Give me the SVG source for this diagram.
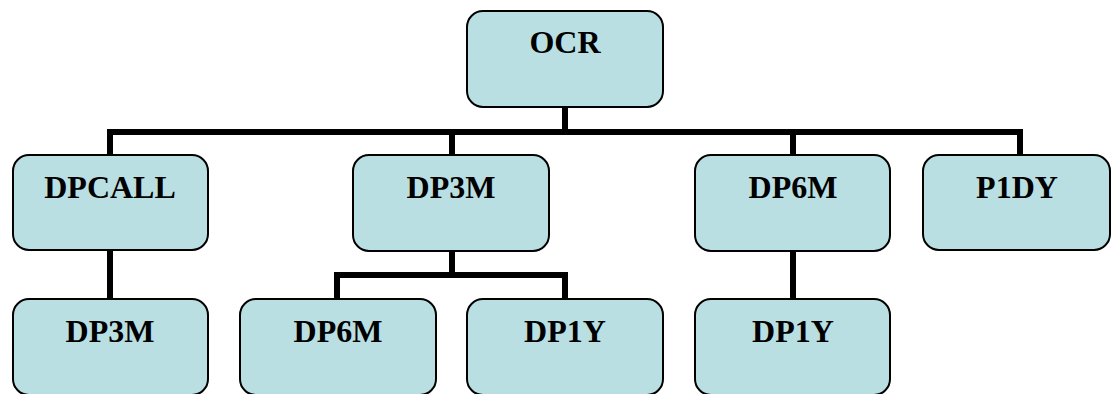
<svg xmlns="http://www.w3.org/2000/svg" width="1112" height="394" viewBox="0 0 1112 394">
<style>
.box{fill:#B9DFE3;stroke:#000;stroke-width:2}
.lbl{font-family:"Liberation Serif","Times New Roman",serif;font-weight:bold;font-size:32px;fill:#000;text-anchor:middle}
.conn{fill:none;stroke:#000;stroke-width:6;stroke-linecap:butt;stroke-linejoin:miter}
</style>
<rect width="1112" height="394" fill="#fff"/>
<g id="connectors">
<path class="conn" d="M565 107V132M110 155V132H1020V155M452 132V155M793 132V155"/>
<path class="conn" d="M110 250V299"/>
<path class="conn" d="M452 251V275M337 299V275H565V299"/>
<path class="conn" d="M793 251V299"/>
</g>
<g id="OCR"><rect class="box" x="467" y="11" width="196" height="96" rx="16"/><text class="lbl" x="565" y="53">OCR</text></g>
<g id="DPCALL"><rect class="box" x="13" y="155" width="195" height="95" rx="16"/><text class="lbl" x="110" y="198">DPCALL</text></g>
<g id="DP3M_a"><rect class="box" x="353" y="155" width="196" height="96" rx="16"/><text class="lbl" x="451" y="198">DP3M</text></g>
<g id="DP6M_a"><rect class="box" x="695" y="155" width="195" height="96" rx="16"/><text class="lbl" x="793" y="198">DP6M</text></g>
<g id="P1DY"><rect class="box" x="923" y="155" width="187" height="95" rx="16"/><text class="lbl" x="1017" y="198">P1DY</text></g>
<g id="DP3M_b"><rect class="box" x="13" y="299" width="195" height="96" rx="16"/><text class="lbl" x="110" y="342">DP3M</text></g>
<g id="DP6M_b"><rect class="box" x="240" y="299" width="196" height="96" rx="16"/><text class="lbl" x="338" y="342">DP6M</text></g>
<g id="DP1Y_a"><rect class="box" x="467" y="299" width="196" height="96" rx="16"/><text class="lbl" x="565" y="342">DP1Y</text></g>
<g id="DP1Y_b"><rect class="box" x="695" y="299" width="195" height="96" rx="16"/><text class="lbl" x="793" y="342">DP1Y</text></g>
</svg>
